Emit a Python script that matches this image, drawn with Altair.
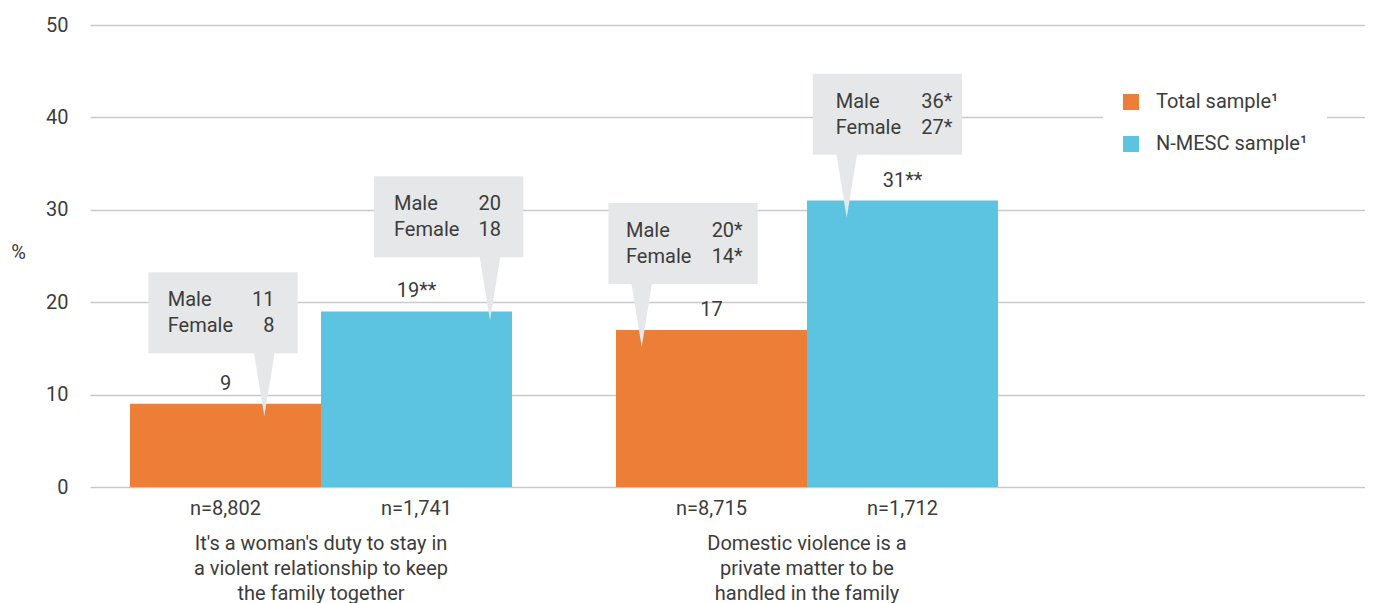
import altair as alt
import pandas as pd

# ---------------- data ----------------
CATEGORIES = [
    "It's a woman's duty to stay in\na violent relationship to keep\nthe family together",
    "Domestic violence is a\nprivate matter to be\nhandled in the family",
]
SERIES = ["Total sample\u00b9", "N-MESC sample\u00b9"]
TOTAL_VALUES = [9, 17]
NMESC_VALUES = [19, 31]
TOTAL_LABELS = ["9", "17"]
NMESC_LABELS = ["19**", "31**"]
TOTAL_N = ["n=8,802", "n=8,715"]
NMESC_N = ["n=1,741", "n=1,712"]
GENDERS = ["Male", "Female"]
MALE_TOTAL = ["11", "20*"]
FEMALE_TOTAL = ["8", "14*"]
MALE_NMESC = ["20", "36*"]
FEMALE_NMESC = ["18", "27*"]
Y_TICKS = [0, 10, 20, 30, 40, 50]

# callout boxes: bottom edge in % units (order: cat1 total, cat1 N-MESC, cat2 total, cat2 N-MESC)
CALLOUT_BOTTOM = [14.47, 24.86, 21.97, 35.96]
BOX_HEIGHT = 8.77

# ---------------- style ----------------
COLORS = ["#EC7E38", "#5CC4E0"]
TEXT = "#3c3c3c"
BOX = "#e6e7e8"
GRID = "#c9c9c9"
FONT = "Roboto"
FS = 20
# pixel offsets of each callout from its category centre
CALLOUT_STYLE = [
    dict(box=-98, tip=-56.7, left=-153.3, right=-46.5),
    dict(box=127.7, tip=169, left=73, right=180),
    dict(box=-124, tip=-165.3, left=-181, right=-64.3),
    dict(box=80.4, tip=39.7, left=28.7, right=145.3),
]
POINTER = "M-0.335,-0.06L0.335,-0.06L0,2Z"

rows = []
for ci, cat in enumerate(CATEGORIES):
    rows.append(dict(category=cat, series=SERIES[0], value=TOTAL_VALUES[ci],
                     label=TOTAL_LABELS[ci], n=TOTAL_N[ci]))
    rows.append(dict(category=cat, series=SERIES[1], value=NMESC_VALUES[ci],
                     label=NMESC_LABELS[ci], n=NMESC_N[ci]))
df = pd.DataFrame(rows)

x_scale = alt.Scale(paddingInner=0.214, paddingOuter=0.4187, align=0.0983, round=False)
x_axis = alt.Axis(
    title=None, labelExpr="split(datum.label, '\\n')", labelAngle=0,
    labelFontSize=FS, labelColor=TEXT, labelFont=FONT, labelLineHeight=25,
    labelPadding=46, labelLimit=500, labelOverlap=False, labelBaseline="top",
    domain=False, ticks=False, tickSize=0, grid=False,
)
x_enc = alt.X("category:N", sort=CATEGORIES, scale=x_scale, axis=x_axis)
xoff = alt.XOffset("series:N", sort=SERIES, scale=alt.Scale(paddingInner=0, paddingOuter=0))
y_scale = alt.Scale(domain=[0, 50], nice=False)
y_axis = alt.Axis(
    values=Y_TICKS, title="%", titleAngle=0, titleX=-72, titleY=227,
    titleAlign="center", titleBaseline="middle", titleFontSize=FS,
    titleFontWeight="normal", titleColor=TEXT, titleFont=FONT,
    labelFontSize=FS, labelColor=TEXT, labelFont=FONT, labelPadding=22,
    domain=False, ticks=False, grid=True, gridColor=GRID, gridWidth=1.5,
)

bars = alt.Chart(df).mark_bar().encode(
    x=x_enc, xOffset=xoff,
    y=alt.Y("value:Q", scale=y_scale, axis=y_axis),
    color=alt.Color(
        "series:N", sort=SERIES, scale=alt.Scale(domain=SERIES, range=COLORS),
        legend=alt.Legend(
            title=None, orient="none", legendX=1013, legendY=49,
            symbolType="square", symbolSize=256, symbolStrokeWidth=0,
            labelFontSize=FS, labelColor=TEXT, labelFont=FONT, labelOffset=15,
            rowPadding=22, padding=18, fillColor="white", strokeColor="white",
        ),
    ),
)

value_labels = alt.Chart(df).mark_text(
    baseline="alphabetic", dy=-14, fontSize=FS, color=TEXT, font=FONT
).encode(x=x_enc, xOffset=xoff, y=alt.Y("value:Q", scale=y_scale), text="label:N")

n_labels = alt.Chart(df).mark_text(
    baseline="alphabetic", dy=28, fontSize=FS, color=TEXT, font=FONT
).encode(x=x_enc, xOffset=xoff, y=alt.datum(0), text="n:N")

layers = [bars, value_labels, n_labels]

males = [MALE_TOTAL[0], MALE_NMESC[0], MALE_TOTAL[1], MALE_NMESC[1]]
females = [FEMALE_TOTAL[0], FEMALE_NMESC[0], FEMALE_TOTAL[1], FEMALE_NMESC[1]]
for k in range(4):
    cat = CATEGORIES[k // 2]
    st = CALLOUT_STYLE[k]
    data = alt.Data(values=[dict(category=cat, bottom=CALLOUT_BOTTOM[k],
                                 top=CALLOUT_BOTTOM[k] + BOX_HEIGHT,
                                 genders=GENDERS, vals=[males[k], females[k]])])
    yb = alt.Y("bottom:Q", scale=y_scale)
    box = alt.Chart(data).mark_bar(width=149.3, xOffset=st["box"], color=BOX).encode(
        x=x_enc, y=yb, y2="top:Q")
    ptr = alt.Chart(data).mark_point(
        shape=POINTER, size=3969, filled=True, opacity=1, color=BOX,
        strokeWidth=0, xOffset=st["tip"]).encode(x=x_enc, y=yb)
    gl = alt.Chart(data).mark_text(
        align="left", baseline="alphabetic", dx=st["left"], dy=-47,
        lineHeight=26, fontSize=FS, color=TEXT, font=FONT).encode(
        x=x_enc, y=yb, text="genders:N")
    vl = alt.Chart(data).mark_text(
        align="right", baseline="alphabetic", dx=st["right"], dy=-47,
        lineHeight=26, fontSize=FS, color=TEXT, font=FONT).encode(
        x=x_enc, y=yb, text="vals:N")
    layers += [box, ptr, gl, vl]

chart = alt.layer(*layers).properties(
    width=1275, height=462,
    padding={"left": 82, "top": 17, "right": 0, "bottom": 118},
    autosize=alt.AutoSizeParams(type="none"),
).configure(font=FONT).configure_view(stroke=None)

chart.save("out.html", embed_options={"renderer": "svg", "actions": False})
